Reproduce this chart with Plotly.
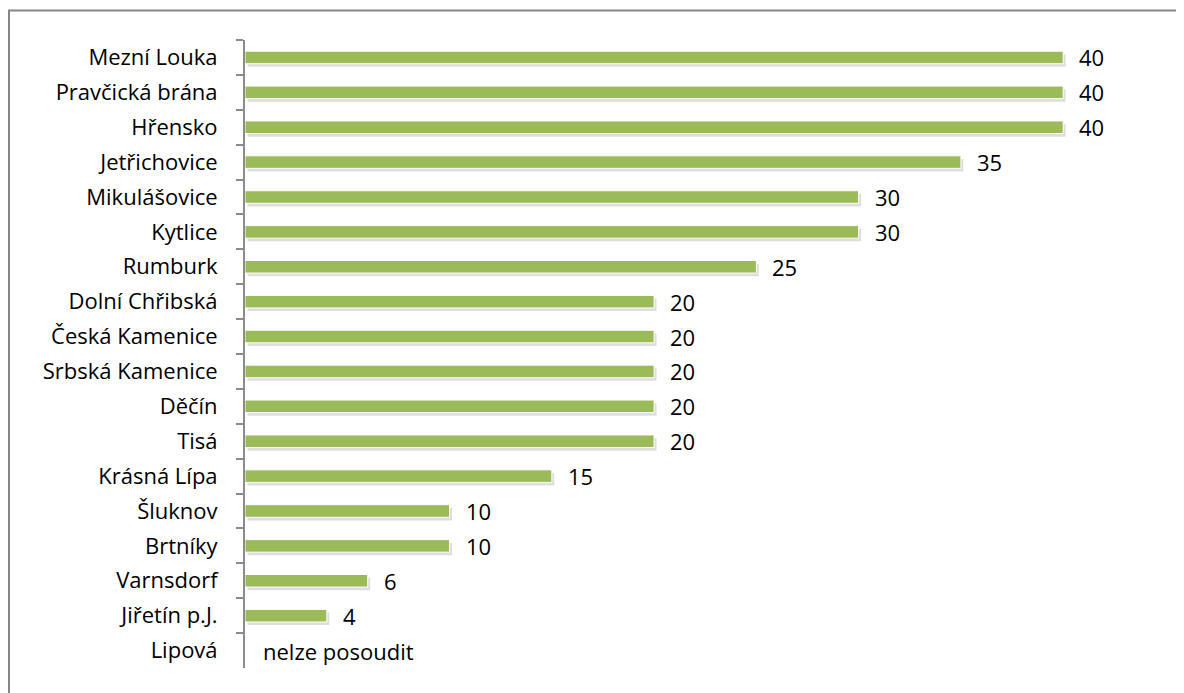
import plotly.graph_objects as go

places = [
    "Mezní Louka", "Pravčická brána", "Hřensko", "Jetřichovice", "Mikulášovice",
    "Kytlice", "Rumburk", "Dolní Chřibská", "Česká Kamenice", "Srbská Kamenice",
    "Děčín", "Tisá", "Krásná Lípa", "Šluknov", "Brtníky", "Varnsdorf",
    "Jiřetín p.J.", "Lipová",
]
values = [40, 40, 40, 35, 30, 30, 25, 20, 20, 20, 20, 20, 15, 10, 10, 6, 4, None]
no_value_text = "nelze posoudit"

FONT = "'Open Sans', 'Noto Sans', sans-serif"
FS = 22
GREEN = "#9BBB59"
BAR_W = 0.36

# page body has an 8px margin, so the figure is a bit smaller and shifted
W, H = 1176, 685
ML, MR, MT, MB = 237, 39, 32, 25
PW, PH = W - ML - MR, H - MT - MB

fig = go.Figure()

# soft drop shadow under each bar
fig.add_trace(go.Bar(
    y=places, x=values, orientation="h", base=0.12,
    width=BAR_W, offset=-BAR_W / 2 + 0.09,
    marker=dict(color="rgba(0,0,0,0.13)", line=dict(width=0)),
    hoverinfo="skip", showlegend=False,
))
fig.add_trace(go.Bar(
    y=places, x=values, orientation="h",
    width=BAR_W, offset=-BAR_W / 2,
    marker=dict(color=GREEN, line=dict(color="white", width=1)),
    showlegend=False,
))

for name, val in zip(places, values):
    if val is None:
        fig.add_annotation(x=0, y=name, text=no_value_text, showarrow=False,
                           xanchor="left", xshift=16, font=dict(size=FS, color="#000"))
    else:
        fig.add_annotation(x=val, y=name, text=str(val), showarrow=False,
                           xanchor="left", xshift=14, font=dict(size=FS, color="#000"))

# outer chart frame (only top and left edges are visible)
fig.add_shape(type="rect", xref="paper", yref="paper",
              x0=(1 - ML) / PW, x1=(1200 - ML) / PW,
              y0=(MT + PH - 720) / PH, y1=(MT + PH - 2.5) / PH,
              line=dict(color="#868686", width=2), fillcolor="rgba(0,0,0,0)", layer="below")

fig.update_layout(
    width=W, height=H,
    margin=dict(l=ML, r=MR, t=MT, b=MB),
    paper_bgcolor="white", plot_bgcolor="white",
    barmode="overlay",
    font=dict(family=FONT, size=FS, color="#000"),
    xaxis=dict(range=[0, 44], visible=False, showgrid=False, zeroline=False),
    yaxis=dict(
        autorange="reversed", showgrid=False, zeroline=False,
        showline=True, linecolor="#8c8c8c", linewidth=2,
        ticks="outside", tickson="boundaries", ticklen=7, tickcolor="#8c8c8c", tickwidth=2,
        ticklabelstandoff=21,
        tickfont=dict(family=FONT, size=FS, color="#000"),
    ),
)

fig.write_html("out.html")
